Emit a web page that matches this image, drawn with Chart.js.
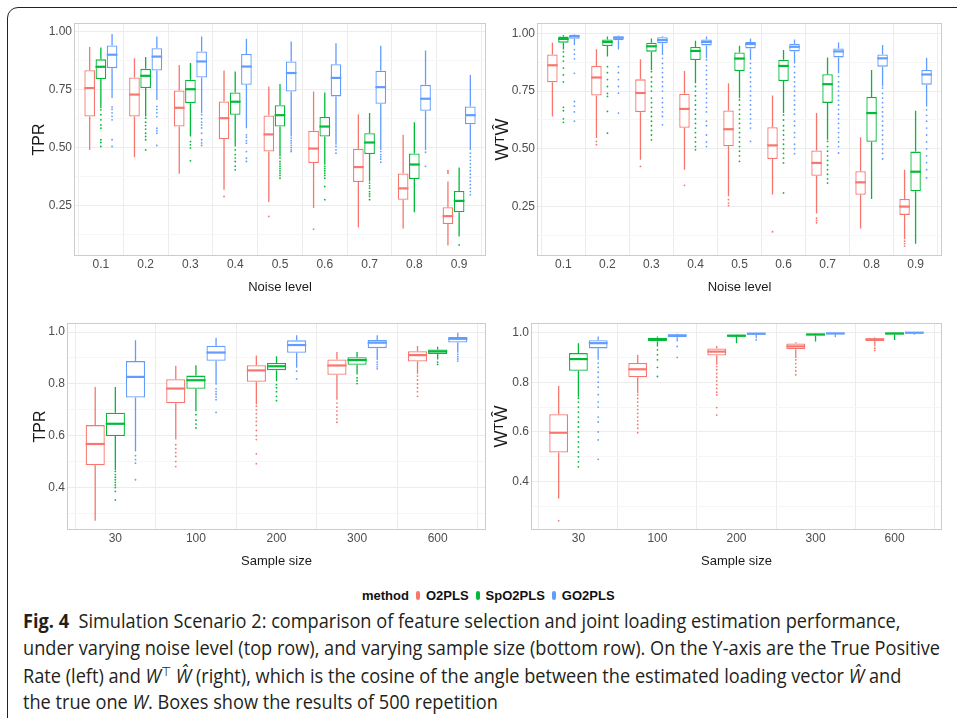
<!DOCTYPE html>
<html>
<head>
<meta charset="utf-8">
<script src="https://cdn.jsdelivr.net/npm/chart.js@4.4.1/dist/chart.umd.min.js"></script>
<style>
  body { margin: 0; width: 957px; height: 718px; background: #fff; overflow: hidden; position: relative; font-family: 'Liberation Sans', Arial, sans-serif; }
  .frame { position: absolute; left: 7px; top: 7px; width: 1000px; height: 800px; border: 1.5px solid #222; border-radius: 11px; }
  canvas.panel { position: absolute; }
  #legend { position: absolute; left: 362px; top: 588px; display: flex; align-items: center; font-weight: bold; font-size: 13px; color: #111; white-space: nowrap; }
  #legend .key { display: inline-block; width: 4px; height: 9px; border-radius: 2px; margin: 0 6px 0 7px; }
  .cap { position: absolute; left: 23px; white-space: nowrap; font-family: 'Open Sans', 'Noto Sans', sans-serif; font-size: 20px; line-height: 22px; height: 22px; color: #231f20; transform-origin: left center; }
  .cap b { font-weight: 700; }
  .cap .up { position: relative; top: -7px; font-size: 13px; line-height: 0; }
</style>
</head>
<body>
<div class="frame"></div>
<canvas class="panel" id="tprNoise" width="470" height="290" style="left:20px;top:13px"></canvas>
<canvas class="panel" id="cosNoise" width="460" height="290" style="left:490px;top:13px"></canvas>
<canvas class="panel" id="tprSample" width="470" height="270" style="left:20px;top:305px"></canvas>
<canvas class="panel" id="cosSample" width="460" height="270" style="left:490px;top:305px"></canvas>

<div id="legend"></div>

<div class="cap" style="top:610px"><b>Fig. 4</b>&nbsp; Simulation Scenario 2: comparison of feature selection and joint loading estimation performance,</div>
<div class="cap" style="top:637px">under varying noise level (top row), and varying sample size (bottom row). On the Y-axis are the True Positive</div>
<div class="cap" style="top:665px">Rate (left) and <i>W</i><span class="up">⊤</span> <i>Ŵ</i> (right), which is the cosine of the angle between the estimated loading vector <i>Ŵ</i> and</div>
<div class="cap" style="top:691px">the true one <i>W</i>. Boxes show the results of 500 repetition</div>

<script>
const noiseLevels = ['0.1', '0.2', '0.3', '0.4', '0.5', '0.6', '0.7', '0.8', '0.9'];
const sampleSizes = ['30', '100', '200', '300', '600'];
const methods = ['O2PLS', 'SpO2PLS', 'GO2PLS'];
const methodColors = ['#F8766D', '#00BA38', '#619CFF'];

// y ticks
const noiseTicks = [0.25, 0.5, 0.75, 1.0];
const noiseTickLabels = ['0.25', '0.50', '0.75', '1.00'];
const noiseMinor = [0.125, 0.375, 0.625, 0.875];
const sampleTicks = [0.4, 0.6, 0.8, 1.0];
const sampleTickLabels = ['0.4', '0.6', '0.8', '1.0'];
const sampleMinor = [0.3, 0.5, 0.7, 0.9];

// each box: [lower whisker, q1, median, q3, upper whisker]
const tprNoiseO2PLS = [[0.49, 0.634, 0.757, 0.834, 0.934], [0.459, 0.634, 0.729, 0.803, 0.886], [0.387, 0.591, 0.672, 0.747, 0.857], [0.318, 0.537, 0.627, 0.699, 0.833], [0.265, 0.483, 0.557, 0.639, 0.764], [0.239, 0.433, 0.496, 0.573, 0.742], [0.155, 0.351, 0.416, 0.495, 0.644], [0.151, 0.275, 0.324, 0.388, 0.555], [0.077, 0.17, 0.204, 0.243, 0.354]];
const tprNoiseSpO2PLS = [[0.67, 0.796, 0.849, 0.881, 0.932], [0.634, 0.757, 0.81, 0.84, 0.891], [0.548, 0.692, 0.752, 0.793, 0.865], [0.505, 0.642, 0.698, 0.738, 0.829], [0.462, 0.591, 0.64, 0.683, 0.775], [0.426, 0.548, 0.591, 0.632, 0.738], [0.354, 0.472, 0.522, 0.562, 0.649], [0.221, 0.364, 0.427, 0.475, 0.609], [0.116, 0.221, 0.27, 0.313, 0.414]];
const tprNoiseGO2PLS = [[0.714, 0.843, 0.901, 0.941, 0.991], [0.706, 0.833, 0.893, 0.929, 0.98], [0.649, 0.803, 0.872, 0.915, 0.98], [0.584, 0.771, 0.85, 0.904, 0.97], [0.548, 0.742, 0.822, 0.872, 0.958], [0.512, 0.721, 0.801, 0.86, 0.951], [0.49, 0.689, 0.761, 0.832, 0.94], [0.49, 0.659, 0.711, 0.771, 0.919], [0.49, 0.601, 0.64, 0.678, 0.814]];
const tprNoiseOutO2PLS = [[], [], [], [0.289], [0.203], [0.148], [], [], [0.39, 0.395, 0.401]];
const tprNoiseOutSpO2PLS = [[0.663, 0.642, 0.62, 0.598, 0.584, 0.534, 0.522, 0.505], [0.627, 0.61, 0.595, 0.58, 0.562, 0.548, 0.534, 0.49], [0.526, 0.512, 0.498, 0.443], [0.49, 0.47, 0.455, 0.44, 0.42, 0.404], [0.455, 0.44, 0.43, 0.42, 0.41, 0.4, 0.39, 0.38, 0.368], [0.419, 0.41, 0.4, 0.39, 0.38, 0.368, 0.332, 0.275], [0.347, 0.335, 0.325, 0.31, 0.3, 0.29, 0.275], [], [0.08]];
const tprNoiseOutGO2PLS = [[0.675, 0.665, 0.65, 0.635, 0.62, 0.534, 0.505], [0.678, 0.665, 0.65, 0.634, 0.584, 0.573, 0.562, 0.509], [0.642, 0.625, 0.61, 0.598, 0.585, 0.562, 0.534, 0.52, 0.509], [0.555, 0.545, 0.53, 0.519, 0.483, 0.454, 0.44], [0.541, 0.53, 0.52, 0.51, 0.5, 0.49, 0.483], [0.505, 0.49, 0.476], [0.483, 0.47, 0.46, 0.45, 0.437], [0.48, 0.419], [0.476, 0.46, 0.445, 0.43, 0.415, 0.4, 0.385, 0.37, 0.355, 0.34, 0.325, 0.31, 0.296]];

const cosNoiseO2PLS = [[0.64, 0.788, 0.862, 0.909, 0.96], [0.547, 0.731, 0.809, 0.859, 0.931], [0.453, 0.659, 0.742, 0.801, 0.888], [0.41, 0.591, 0.673, 0.739, 0.837], [0.295, 0.511, 0.585, 0.666, 0.784], [0.302, 0.456, 0.515, 0.594, 0.731], [0.22, 0.383, 0.439, 0.493, 0.655], [0.155, 0.301, 0.355, 0.403, 0.55], [0.108, 0.214, 0.25, 0.283, 0.41]];
const cosNoiseSpO2PLS = [[0.93, 0.96, 0.976, 0.986, 0.993], [0.9, 0.945, 0.963, 0.974, 0.986], [0.842, 0.921, 0.944, 0.96, 0.978], [0.784, 0.885, 0.924, 0.941, 0.968], [0.719, 0.837, 0.891, 0.917, 0.947], [0.655, 0.794, 0.859, 0.886, 0.928], [0.539, 0.699, 0.78, 0.823, 0.896], [0.283, 0.531, 0.655, 0.725, 0.842], [0.089, 0.316, 0.401, 0.488, 0.665]];
const cosNoiseGO2PLS = [[0.95, 0.977, 0.987, 0.994, 0.996], [0.93, 0.97, 0.981, 0.988, 0.991], [0.906, 0.957, 0.971, 0.983, 0.988], [0.892, 0.948, 0.963, 0.974, 0.986], [0.885, 0.935, 0.954, 0.963, 0.978], [0.87, 0.922, 0.942, 0.955, 0.974], [0.827, 0.896, 0.922, 0.935, 0.961], [0.77, 0.856, 0.892, 0.909, 0.95], [0.683, 0.778, 0.822, 0.842, 0.895]];
const cosNoiseOutO2PLS = [[], [0.532, 0.518], [0.424], [0.342], [0.28, 0.265, 0.254], [0.141], [0.2, 0.19, 0.18], [], [0.1, 0.09, 0.079]];
const cosNoiseOutSpO2PLS = [[0.92, 0.9, 0.88, 0.85, 0.82, 0.79, 0.68, 0.665, 0.63, 0.615], [0.856, 0.83, 0.8, 0.77, 0.74, 0.727, 0.662, 0.568], [0.834, 0.81, 0.79, 0.77, 0.75, 0.72, 0.7, 0.68, 0.66, 0.64, 0.62, 0.6, 0.58, 0.56, 0.539], [0.77, 0.75, 0.73, 0.71, 0.69, 0.67, 0.65, 0.63, 0.61, 0.59, 0.57, 0.55, 0.53, 0.51, 0.496], [0.712, 0.69, 0.67, 0.65, 0.63, 0.61, 0.59, 0.57, 0.55, 0.53, 0.51, 0.49, 0.47, 0.446], [0.647, 0.625, 0.6, 0.58, 0.56, 0.54, 0.52, 0.5, 0.48, 0.46, 0.439, 0.309], [0.532, 0.51, 0.49, 0.47, 0.45, 0.43, 0.41, 0.39, 0.37, 0.352], [], []];
const cosNoiseOutGO2PLS = [[0.93, 0.91, 0.89, 0.827, 0.705, 0.685, 0.66, 0.62], [0.856, 0.83, 0.8, 0.77, 0.741, 0.655], [0.892, 0.87, 0.85, 0.83, 0.81, 0.79, 0.77, 0.75, 0.72, 0.7, 0.68, 0.66, 0.64, 0.604], [0.885, 0.86, 0.84, 0.82, 0.8, 0.78, 0.76, 0.74, 0.72, 0.7, 0.68, 0.66, 0.62, 0.6, 0.56, 0.53, 0.51], [0.87, 0.85, 0.83, 0.81, 0.79, 0.77, 0.75, 0.73, 0.71, 0.69, 0.67, 0.65, 0.63, 0.61, 0.59, 0.532], [0.856, 0.83, 0.81, 0.79, 0.77, 0.75, 0.73, 0.71, 0.69, 0.67, 0.65, 0.62, 0.6, 0.57, 0.55, 0.52, 0.5, 0.479], [0.813, 0.79, 0.77, 0.75, 0.73, 0.71, 0.69, 0.67, 0.65, 0.63, 0.61, 0.59, 0.57, 0.55, 0.53, 0.51, 0.482], [0.763, 0.74, 0.72, 0.7, 0.68, 0.66, 0.64, 0.62, 0.6, 0.58, 0.56, 0.54, 0.52, 0.5, 0.48, 0.456], [0.669, 0.645, 0.62, 0.59, 0.56, 0.53, 0.5, 0.47, 0.44, 0.41, 0.374]];

const tprSampleO2PLS = [[0.272, 0.486, 0.568, 0.641, 0.788], [0.585, 0.725, 0.782, 0.818, 0.87], [0.72, 0.808, 0.852, 0.872, 0.91], [0.739, 0.835, 0.871, 0.894, 0.923], [0.839, 0.886, 0.911, 0.926, 0.946]];
const tprSampleSpO2PLS = [[0.468, 0.599, 0.646, 0.689, 0.788], [0.694, 0.781, 0.814, 0.832, 0.872], [0.81, 0.853, 0.868, 0.881, 0.907], [0.836, 0.874, 0.892, 0.903, 0.923], [0.894, 0.915, 0.925, 0.933, 0.943]];
const tprSampleGO2PLS = [[0.539, 0.747, 0.827, 0.888, 0.968], [0.797, 0.889, 0.921, 0.947, 0.978], [0.862, 0.92, 0.95, 0.968, 0.988], [0.892, 0.938, 0.959, 0.969, 0.988], [0.92, 0.96, 0.974, 0.981, 0.997]];
const tprSampleOutO2PLS = [[], [0.565, 0.55, 0.535, 0.52, 0.5, 0.481], [0.714, 0.7, 0.685, 0.67, 0.655, 0.64, 0.62, 0.6, 0.585, 0.53, 0.492], [0.726, 0.71, 0.695, 0.68, 0.665, 0.652], [0.83, 0.815, 0.8, 0.785, 0.77, 0.752]];
const tprSampleOutSpO2PLS = [[0.462, 0.45, 0.44, 0.43, 0.42, 0.41, 0.4, 0.385, 0.352], [0.681, 0.66, 0.645, 0.63], [0.797, 0.785, 0.77, 0.752, 0.735], [0.823, 0.812, 0.801], [0.884, 0.875]];
const tprSampleOutGO2PLS = [[0.523, 0.508, 0.494, 0.43], [0.781, 0.77, 0.76, 0.75, 0.739, 0.69], [0.849, 0.819], [0.884, 0.875, 0.866, 0.858], [0.914, 0.905, 0.896, 0.888]];

const cosSampleO2PLS = [[0.333, 0.517, 0.597, 0.671, 0.785], [0.756, 0.82, 0.852, 0.877, 0.91], [0.87, 0.907, 0.923, 0.936, 0.946], [0.897, 0.932, 0.944, 0.956, 0.961], [0.944, 0.966, 0.972, 0.977, 0.98]];
const cosSampleSpO2PLS = [[0.742, 0.846, 0.893, 0.917, 0.957], [0.944, 0.965, 0.973, 0.979, 0.984], [0.957, 0.983, 0.987, 0.991, 0.992], [0.964, 0.988, 0.992, 0.995, 0.996], [0.97, 0.992, 0.996, 0.999, 1.0]];
const cosSampleGO2PLS = [[0.89, 0.936, 0.957, 0.969, 0.984], [0.964, 0.981, 0.988, 0.992, 0.995], [0.977, 0.991, 0.995, 0.997, 0.999], [0.981, 0.993, 0.996, 0.999, 1.0], [0.991, 0.996, 0.999, 1.0, 1.0]];
const cosSampleOutO2PLS = [[0.243], [0.749, 0.735, 0.72, 0.705, 0.69, 0.675, 0.66, 0.645, 0.63, 0.615, 0.597], [0.863, 0.85, 0.835, 0.82, 0.805, 0.79, 0.775, 0.76, 0.749, 0.698, 0.668], [0.89, 0.875, 0.86, 0.845, 0.83], [0.937, 0.928]];
const cosSampleOutSpO2PLS = [[0.736, 0.72, 0.7, 0.68, 0.66, 0.64, 0.62, 0.6, 0.58, 0.56, 0.54, 0.52, 0.5, 0.48, 0.46], [0.93, 0.91, 0.89, 0.86, 0.823], [], [], []];
const cosSampleOutGO2PLS = [[0.877, 0.86, 0.84, 0.82, 0.8, 0.78, 0.75, 0.72, 0.7, 0.66, 0.64, 0.6, 0.568, 0.49], [0.944, 0.9], [0.97], [], []];

const FONT = "'Liberation Sans', Arial, sans-serif";

// whiskers, medians, outliers and the panel border, all placed through the chart scales
const boxPlotPlugin = {
    id: 'boxPlot',
    afterDatasetsDraw(chart) {
        const ctx = chart.ctx;
        const y = chart.scales.y;
        chart.data.datasets.forEach((ds, i) => {
            const meta = chart.getDatasetMeta(i);
            meta.data.forEach((bar, j) => {
                const [lo, q1, med, q3, hi] = ds.stats[j];
                const half = bar.width / 2;
                ctx.save();
                ctx.strokeStyle = ds.borderColor;
                ctx.lineWidth = 1.3;
                ctx.beginPath();
                ctx.moveTo(bar.x, y.getPixelForValue(q3));
                ctx.lineTo(bar.x, y.getPixelForValue(hi));
                ctx.moveTo(bar.x, y.getPixelForValue(q1));
                ctx.lineTo(bar.x, y.getPixelForValue(lo));
                ctx.stroke();
                ctx.lineWidth = 2.2;
                ctx.beginPath();
                ctx.moveTo(bar.x - half, y.getPixelForValue(med));
                ctx.lineTo(bar.x + half, y.getPixelForValue(med));
                ctx.stroke();
                ctx.fillStyle = ds.borderColor;
                ds.outliers[j].forEach(v => {
                    ctx.beginPath();
                    ctx.arc(bar.x, y.getPixelForValue(v), 0.9, 0, 2 * Math.PI);
                    ctx.fill();
                });
                ctx.restore();
            });
        });
    },
    afterDraw(chart) {
        const {ctx, chartArea} = chart;
        ctx.save();
        ctx.strokeStyle = '#cccccc';
        ctx.lineWidth = 1;
        ctx.strokeRect(chartArea.left + 0.5, chartArea.top + 0.5, chartArea.right - chartArea.left - 1, chartArea.bottom - chartArea.top - 1);
        ctx.restore();
    }
};

function makePanel(id, cfg) {
    const datasets = methods.map((name, m) => ({
        label: name,
        data: cfg.boxes[m].map((b, i) => ({x: i, y: [b[1], b[3]]})),
        stats: cfg.boxes[m],
        outliers: cfg.outliers[m],
        backgroundColor: '#ffffff',
        borderColor: methodColors[m],
        borderWidth: 1.3,
        borderSkipped: false,
        categoryPercentage: 0.75,
        barPercentage: 0.95
    }));
    const majors = cfg.yTicks;
    return new Chart(document.getElementById(id), {
        type: 'bar',
        data: {datasets},
        options: {
            responsive: false,
            animation: false,
            events: [],
            layout: {padding: {top: cfg.padTop, right: cfg.padRight, left: 0, bottom: 0}},
            plugins: {legend: {display: false}, tooltip: {enabled: false}},
            scales: {
                x: {
                    type: 'linear',
                    min: -0.6,
                    max: cfg.categories.length - 0.4,
                    offset: false,
                    afterBuildTicks: s => { s.ticks = cfg.categories.map((c, i) => ({value: i})); },
                    afterFit: s => { s.height = cfg.xHeight; },
                    ticks: {
                        callback: (v, i) => cfg.categories[i],
                        color: '#4d4d4d', font: {family: FONT, size: 12}, padding: 1,
                        maxRotation: 0, autoSkip: false
                    },
                    grid: {color: '#ececec', lineWidth: 1, drawTicks: false},
                    border: {display: false},
                    title: {display: true, text: cfg.xTitle, color: '#1a1a1a', font: {family: FONT, size: 13}, padding: {top: 0, bottom: cfg.xTitlePad}}
                },
                y: {
                    min: cfg.yMin,
                    max: cfg.yMax,
                    afterBuildTicks: s => { s.ticks = majors.concat(cfg.yMinor).map(v => ({value: v})); },
                    afterFit: s => { s.width = cfg.yWidth; },
                    ticks: {
                        callback: v => { const k = majors.indexOf(v); return k >= 0 ? cfg.yLabels[k] : ''; },
                        color: '#4d4d4d', font: {family: FONT, size: 12}, padding: 2
                    },
                    grid: {
                        color: c => majors.includes(c.tick.value) ? '#ececec' : '#f6f6f6',
                        lineWidth: 1, drawTicks: false
                    },
                    border: {display: false},
                    title: {display: true, text: cfg.yTitle, color: '#1a1a1a', font: {family: FONT, size: cfg.yTitleSize}, padding: {top: cfg.yTitlePad, bottom: 0}}
                }
            }
        },
        plugins: [boxPlotPlugin]
    });
}

makePanel('tprNoise', {
    categories: noiseLevels,
    boxes: [tprNoiseO2PLS, tprNoiseSpO2PLS, tprNoiseGO2PLS],
    outliers: [tprNoiseOutO2PLS, tprNoiseOutSpO2PLS, tprNoiseOutGO2PLS],
    yMin: 0.032, yMax: 1.038, yTicks: noiseTicks, yLabels: noiseTickLabels, yMinor: noiseMinor,
    yTitle: 'TPR', yTitleSize: 16, yTitlePad: 10.4, yWidth: 54,
    xTitle: 'Noise level', xTitlePad: 8.2, xHeight: 47,
    padTop: 10, padRight: 4
});
makePanel('cosNoise', {
    categories: noiseLevels,
    boxes: [cosNoiseO2PLS, cosNoiseSpO2PLS, cosNoiseGO2PLS],
    outliers: [cosNoiseOutO2PLS, cosNoiseOutSpO2PLS, cosNoiseOutGO2PLS],
    yMin: 0.036, yMax: 1.045, yTicks: noiseTicks, yLabels: noiseTickLabels, yMinor: noiseMinor,
    yTitle: 'W\u1D40\u0174', yTitleSize: 18, yTitlePad: 2.2, yWidth: 47,
    xTitle: 'Noise level', xTitlePad: 8.2, xHeight: 47,
    padTop: 10, padRight: 8
});
makePanel('tprSample', {
    categories: sampleSizes,
    boxes: [tprSampleO2PLS, tprSampleSpO2PLS, tprSampleGO2PLS],
    outliers: [tprSampleOutO2PLS, tprSampleOutSpO2PLS, tprSampleOutGO2PLS],
    yMin: 0.236, yMax: 1.035, yTicks: sampleTicks, yLabels: sampleTickLabels, yMinor: sampleMinor,
    yTitle: 'TPR', yTitleSize: 16, yTitlePad: 11.4, yWidth: 47,
    xTitle: 'Sample size', xTitlePad: 5.5, xHeight: 45,
    padTop: 18, padRight: 4
});
makePanel('cosSample', {
    categories: sampleSizes,
    boxes: [cosSampleO2PLS, cosSampleSpO2PLS, cosSampleGO2PLS],
    outliers: [cosSampleOutO2PLS, cosSampleOutSpO2PLS, cosSampleOutGO2PLS],
    yMin: 0.206, yMax: 1.038, yTicks: sampleTicks, yLabels: sampleTickLabels, yMinor: sampleMinor,
    yTitle: 'W\u1D40\u0174', yTitleSize: 18, yTitlePad: 1.2, yWidth: 41,
    xTitle: 'Sample size', xTitlePad: 5.5, xHeight: 45,
    padTop: 18, padRight: 8
});

// legend below the panels
const legend = document.getElementById('legend');
legend.innerHTML = '<span>method</span>' + methods.map((m, i) =>
    `<span class="key" style="background:${methodColors[i]}"></span><span>${m}</span>`).join('');

// fit caption lines to the width of the original typesetting
function fitCaption() {
    const lines = document.querySelectorAll('.cap');
    const w = lines[1].getBoundingClientRect().width;
    const scale = 917 / w;
    lines.forEach(el => { el.style.transform = `scaleX(${scale})`; });
}
fitCaption();
</script>
</body>
</html>
